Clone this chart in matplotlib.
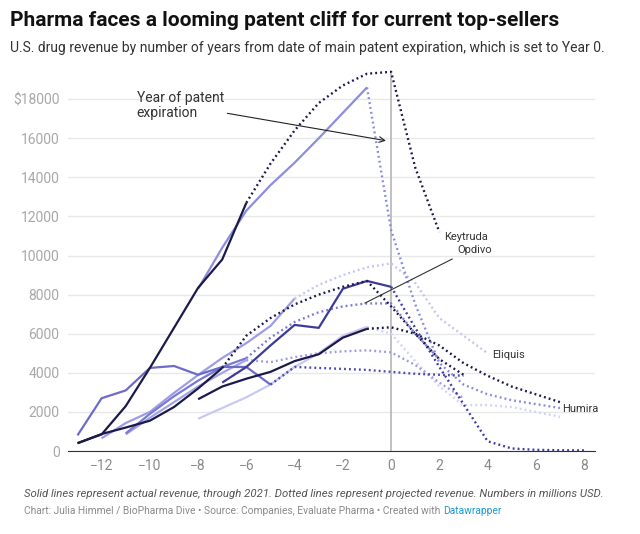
import matplotlib
matplotlib.use("Agg")
import matplotlib.pyplot as plt

plt.rcParams['font.family'] = ['Roboto', 'DejaVu Sans']

# years relative to patent expiry, revenue in $M
# each series: (actual_start, actual values, projected_start, projected values, colour)
keytruda_act = [400, 850, 2300, 4250, 6300, 8350, 9800, 12700]
keytruda_proj = [12700, 14700, 16400, 17800, 18700, 19300, 19400, 14500, 11200]

humira_act = [8300, 10400, 12300, 13600, 14750, 16000, 17300, 18600]
humira_proj = [18600, 11300, 7500, 4500, 3400, 2900, 2600, 2400, 2200]

navy2_act = [400, 870, 1200, 1550, 2250, 3200, 4250]
navy2_proj = [4250, 5900, 6800, 7500, 8000, 8400, 8700, 7400, 6000, 4700, 3900]

blue_act = [3500, 4300, 5400, 6450, 6300, 8300, 8700, 8400]
blue_proj = [8400, 6300, 4300, 2400, 500, 130, 60, 40, 30]

navy3_act = [2650, 3300, 3700, 4050, 4600, 4950, 5800, 6250]
navy3_proj = [6250, 6330, 6000, 5400, 4500, 3850, 3300, 2900, 2500]

med_act = [800, 2700, 3100, 4250, 4350, 3900, 4300, 4300, 3400]
med_proj = [3400, 4300, 4250, 4200, 4150, 4050, 3950, 3900, 3850]

eliquis_act = [650, 1430, 2000, 2970, 3890, 4760, 5520, 6400, 7800]
eliquis_proj = [7800, 8500, 9000, 9400, 9600, 8600, 6800, 5900, 5000]

opdivo_act = [900, 1900, 2800, 3600, 4300, 4750]
opdivo_proj = [4750, 5800, 6600, 7100, 7400, 7550, 7550, 6000, 4700]

light_act = [850, 1700, 2500, 3300, 4000, 4650]
light_proj = [4650, 4550, 4800, 5000, 5100, 5150, 5050, 4400, 3500, 2700]

pale_act = [1650, 2200, 2750, 3400, 4300, 5000, 5900, 6350]
pale_proj = [6350, 6000, 4600, 3300, 2350, 2350, 2250, 2000, 1750]

series = [
    (-8, pale_act, -1, pale_proj, "#c9c9f3", "#d2d2f6"),
    (-11, light_act, -6, light_proj, "#a4a4ea", "#9a9ae8"),
    (-12, eliquis_act, -4, eliquis_proj, "#9d9de6", "#c4c4f2"),
    (-11, opdivo_act, -6, opdivo_proj, "#7a7ad2", "#7a7ad8"),
    (-13, med_act, -5, med_proj, "#6c6cc8", "#4c4cb0"),
    (-8, humira_act, -1, humira_proj, "#8d8de0", "#8a8ae4"),
    (-7, blue_act, 0, blue_proj, "#3c3c98", "#3c3ca0"),
    (-8, navy3_act, -1, navy3_proj, "#1b1a4a", "#1b1a4a"),
    (-13, navy2_act, -7, navy2_proj, "#1b1a4a", "#1b1a4a"),
    (-13, keytruda_act, -6, keytruda_proj, "#1b1a4a", "#1b1a4a"),
]

fig = plt.figure(figsize=(6.4, 5.34), dpi=100)
ax = fig.add_axes([0.106, 0.1554, 0.824, 0.7226])

for a0, act, p0, proj, col, pcol in series:
    ax.plot(range(a0, a0 + len(act)), act, color=col, lw=1.6, solid_capstyle='butt', zorder=3)
    ax.plot(range(p0, p0 + len(proj)), proj, color=pcol, lw=1.7,
            linestyle=(0, (0.8, 1.3)), zorder=3)

ax.plot([0, 0], [0, 19400], color="#b5b5b5", lw=1.2, zorder=2)

ax.set_xlim(-13.4, 8.46)
ax.set_ylim(0, 19740)
yt = list(range(0, 20000, 2000))
ax.set_yticks(yt)
ax.set_yticklabels(["$18000" if v == 18000 else str(v) for v in yt])
xt = list(range(-12, 9, 2))
ax.set_xticks(xt)
ax.set_xticklabels([str(v).replace("-", "\u2212") for v in xt])
ax.grid(axis='y', color="#e8e8e8", lw=1, zorder=0)
for s in ['top', 'right', 'left']:
    ax.spines[s].set_visible(False)
ax.spines['bottom'].set_color("#333333")
ax.spines['bottom'].set_zorder(4)
ax.tick_params(axis='y', length=0, pad=6, labelsize=10, labelcolor="#a8a8a8")
ax.tick_params(axis='x', length=0, pad=6, labelsize=10, labelcolor="#8a8a8a")

# annotations
ax.text(-10.55, 18400, "Year of patent\nexpiration", fontsize=10, color="#333333",
        va='top', ha='left', linespacing=1.1)
ax.annotate("", xy=(-0.1, 15850), xytext=(-6.9, 17300),
            arrowprops=dict(arrowstyle="->", color="#222222", lw=0.8))
ax.text(2.2, 10950, "Keytruda", fontsize=8, color="#333333", va='center')
ax.text(2.75, 10280, "Opdivo", fontsize=8, color="#333333", va='center')
ax.plot([2.53, -1.08], [9820, 7570], color="#333333", lw=0.8, zorder=5)
ax.text(4.2, 4900, "Eliquis", fontsize=8, color="#333333", va='center')
ax.text(7.1, 2150, "Humira", fontsize=8, color="#333333", va='center')

fig.text(0.016, 0.962, "Pharma faces a looming patent cliff for current top-sellers",
         fontsize=15, fontweight='bold', color="#111111", va='center')
fig.text(0.016, 0.911, "U.S. drug revenue by number of years from date of main patent expiration, which is set to Year 0.",
         fontsize=10, color="#333333", va='center')
fig.text(0.038, 0.075, "Solid lines represent actual revenue, through 2021. Dotted lines represent projected revenue. Numbers in millions USD.",
         fontsize=8.2, style='italic', color="#555555", va='center')
src = fig.text(0.038, 0.043, "Chart: Julia Himmel / BioPharma Dive \u2022 Source: Companies, Evaluate Pharma \u2022 Created with ",
               fontsize=7.4, color="#8a8a8a", va='center')
fig.canvas.draw()
bb = src.get_window_extent()
fig.text(bb.x1 / fig.bbox.width, 0.043, "Datawrapper", fontsize=7.4, color="#1d9bd1", va='center')

fig.savefig("out.png", dpi=100)
